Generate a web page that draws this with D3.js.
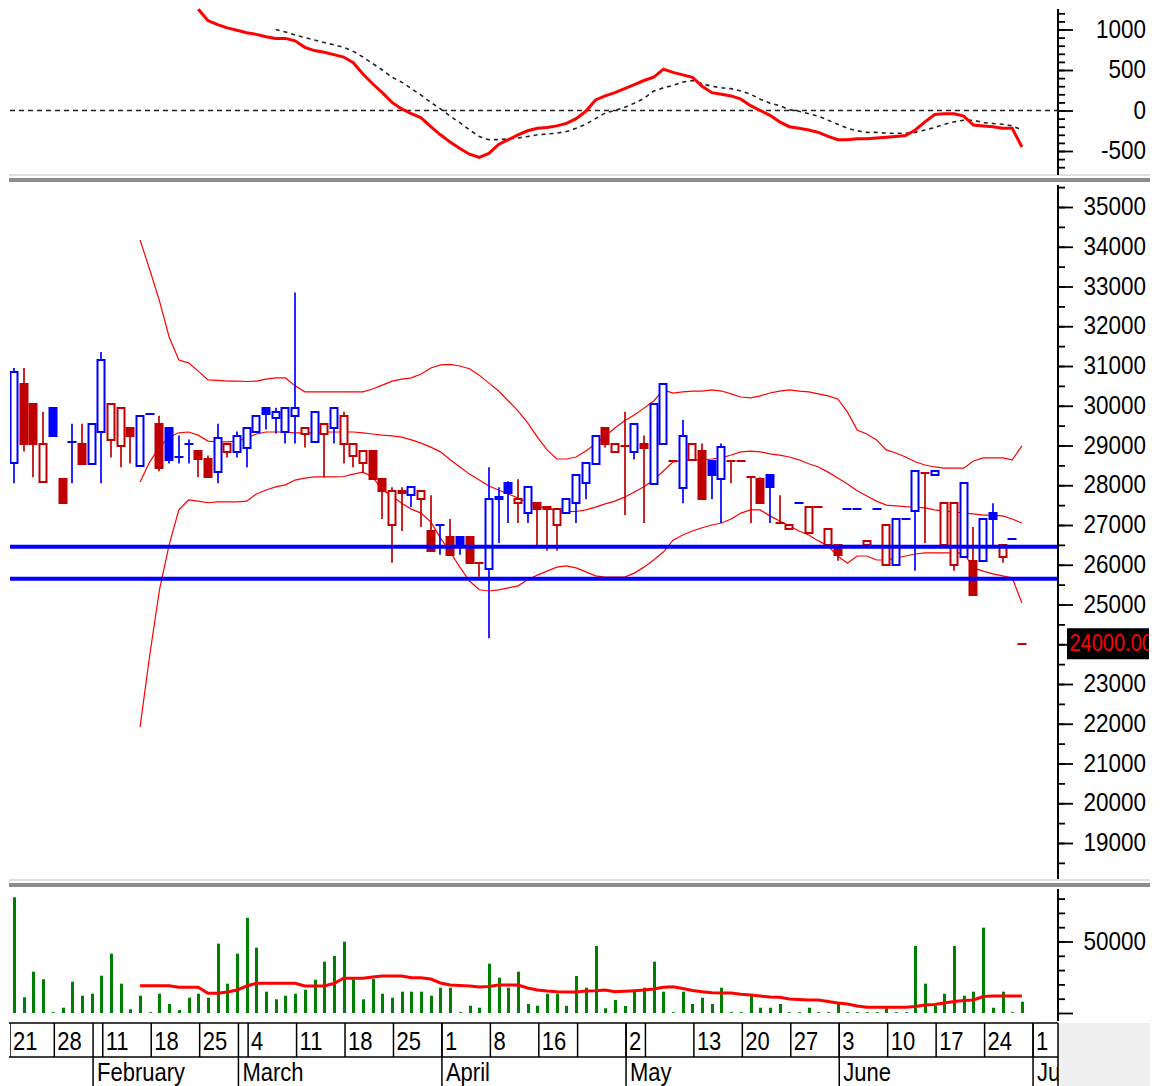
<!DOCTYPE html>
<html>
<head>
<meta charset="utf-8">
<title>Price chart</title>
<script src="https://cdn.jsdelivr.net/npm/d3@7/dist/d3.min.js"></script>
<style>
  body { margin: 0; background: #fff; }
  svg { display: block; }
  text { font-family: Arial, "Liberation Sans", sans-serif; }
</style>
</head>
<body>
<div id="chart"></div>
<script>
// ---- data (one entry per trading day, index 0 = Jan 21) ----
const opens = [28550,30550,30050,28100,29950,28150,29100,29050,28550,29350,
  29150,29000,29450,28500,29800,29550,29450,28700,29050,28850,
  28650,28350,28850,28850,28950,29350,29950,29700,29350,29750,
  29300,29100,29300,29450,29050,28750,28550,28850,28150,27000,
  27850,27750,27650,26850,27000,26700,26700,26700,26050,25900,
  27650,28050,27550,27300,27550,27450,27000,27300,27550,28050,
  28550,29450,28850,29000,28850,29050,28050,29050,28600,27950,
  28650,28850,28600,28150,28600,28600,28200,28150,28250,27050,
  26900,27550,26800,27450,26500,26500,27400,27400,26500,27400,
  26000,26000,27150,27350,28300,28250,26500,26000,26200,26100,
  26100,27300,26200,26650,24000];
const highs = [30950,30950,30050,29850,29950,28150,29550,29550,29550,31350,
  30050,29950,29450,29750,29800,29750,29450,29250,29150,28850,
  28750,29550,29050,29350,29450,29750,29950,29950,29950,32850,
  29450,29850,29550,29950,29850,29050,28850,28850,28150,27950,
  27950,27950,27850,27750,27000,27150,26700,26700,26050,28450,
  27950,28100,28150,27950,27550,27450,27400,27650,28250,28550,
  29250,29450,29050,29850,29550,29250,30050,30550,28600,29650,
  29050,29050,28600,29050,28600,28600,28200,28200,28250,27750,
  27000,27550,27450,27450,26900,26500,27400,27400,26600,27400,
  27000,27150,27150,28350,28300,28350,27550,27550,28050,26950,
  27150,27550,26500,26650,24000];
const lows = [28050,28850,28200,28100,29250,27550,28050,28550,28550,28050,
  28700,28450,28550,28500,29800,28350,28550,28550,28550,28200,
  28200,28050,28700,28700,28450,29350,29400,29300,29050,29050,
  28950,29100,28200,29050,28550,28450,28300,28150,27150,26050,
  26850,27450,26950,26350,26250,26250,26250,26050,25700,24150,
  26550,27050,27050,27050,26450,26350,26350,27300,27050,27650,
  28550,28950,28850,27250,28650,27050,28050,29050,28600,27550,
  28650,27650,27650,27050,28050,28600,27050,27550,27050,27050,
  26900,27550,26800,27450,26500,26100,27400,27400,26500,27400,
  26000,26000,27150,25850,26550,28250,26500,25850,26200,25250,
  26100,26450,26050,26650,24000];
const closes = [30850,29050,29050,29050,29250,27550,29100,28550,29550,31150,
  30050,29950,29250,29750,29800,28450,28650,28700,29050,28650,
  28200,29200,29050,29250,29450,29750,29800,29850,29950,29950,
  29450,29850,29550,29950,29750,29050,28850,28150,27850,27850,
  27800,27950,27850,26350,27000,26250,26450,26050,26050,27650,
  27700,27800,27650,27950,27400,27400,27400,27650,28250,28550,
  29250,29050,29050,29000,29550,28950,30050,30550,28600,29250,
  29050,27650,28250,28950,28600,28600,28200,27550,27950,27050,
  27000,27550,27450,27450,26900,26250,27400,27400,26600,27400,
  27000,27150,27150,28350,28300,28350,27550,27550,28050,25250,
  27150,27150,26500,26650,24000];
// B = up on the previous close (blue), R = down (red)
const candleSide = "BRRRBRBRBB" + "RRRBBRBBBR" + "RBRBBBBBBB" + "RBRBRRRRRR" + "RBRRBRBRRB" +
  "BBRBRRRBBB" + "BRRRBRBBRB" + "RRBBRRRRBR" + "RBRRRRBBRB" + "RBBBRBRRBR" + "BBRBR";
const volumes = [80900,11000,28900,23600,600,3700,21900,12100,13500,26100,
  41500,20500,2600,12100,600,13500,6300,2100,10700,13500,
  10700,48500,20500,41500,66600,45700,14900,9600,12100,13500,
  16300,23300,35900,39900,49900,23600,9600,23800,13500,10700,
  14900,14900,14900,12100,17700,17700,600,5100,3700,34500,
  24700,17700,28900,6300,5100,13500,13500,5000,25900,17700,
  46900,3300,9100,4900,14900,17700,35900,14900,600,14900,
  6300,10700,6300,17700,600,600,12100,3700,3700,6300,
  600,600,3700,600,600,6300,600,600,600,600,
  3300,600,600,46900,20500,4900,13500,46900,12100,14900,
  59700,3700,14900,600,7900];

// Bollinger bands, from index 13
const bandStart = 13;
const bandUpper = [34170,33420,32640,31730,31150,31080,30870,30650,30640,30620,
  30620,30610,30620,30670,30700,30700,30500,30350,30350,30350,
  30350,30350,30350,30350,30420,30520,30620,30670,30700,30800,
  30950,31030,31040,31000,30930,30770,30570,30370,30120,29870,
  29570,29210,28890,28660,28660,28710,28860,29040,29240,29440,
  29620,29770,29940,30120,30400,30320,30350,30370,30370,30400,
  30370,30300,30220,30200,30250,30320,30370,30400,30370,30350,
  30300,30250,30170,29840,29390,29290,29140,28890,28810,28710,
  28590,28510,28460,28430,28430,28430,28610,28690,28690,28690,
  28640,28990];
const bandMiddle = [28080,28590,28960,29210,29320,29340,29260,29110,29090,29090,
  29110,29190,29290,29340,29340,29340,29320,29320,29320,29340,
  29340,29340,29340,29320,29290,29260,29240,29210,29140,29060,
  28960,28840,28640,28460,28280,28130,27980,27880,27780,27680,
  27580,27480,27400,27380,27340,27340,27380,27450,27530,27600,
  27700,27830,27960,28130,28360,28590,28610,28640,28640,28660,
  28690,28760,28840,28860,28840,28790,28760,28710,28640,28540,
  28460,28330,28180,28030,27860,27730,27600,27500,27480,27460,
  27450,27430,27380,27350,27330,27300,27280,27250,27250,27230,
  27150,27050];
const bandLower = [21920,23730,25370,26500,27380,27630,27600,27560,27580,27580,
  27580,27600,27780,27880,27960,28010,28130,28180,28210,28210,
  28210,28220,28280,28330,28210,27880,27730,27550,27400,27300,
  27080,26670,26320,25940,25590,25370,25340,25370,25420,25470,
  25620,25740,25840,25940,25970,25920,25820,25720,25690,25690,
  25690,25790,25940,26120,26320,26620,26750,26850,26930,27000,
  27050,27150,27300,27380,27380,27230,27100,26980,26850,26750,
  26600,26470,26220,26040,26220,26220,26120,26120,26170,26220,
  26270,26300,26300,26300,26300,26300,25920,25840,25770,25720,
  25670,25040];

// MACD and its signal line
const macdStart = 19;
const macdLine = [1250,1110,1060,1020,990,960,940,910,890,890,
  860,780,740,720,690,660,590,450,330,220,
  100,20,-40,-90,-200,-300,-390,-470,-540,-580,
  -530,-420,-360,-300,-250,-220,-210,-190,-160,-100,
  -10,130,180,220,270,320,370,410,510,470,
  440,410,300,220,200,180,140,60,0,-60,
  -140,-200,-220,-240,-270,-320,-360,-360,-350,-350,
  -340,-330,-320,-310,-240,-140,-50,-40,-40,-70,
  -180,-190,-200,-220,-220,-450];
const signalStart = 27;
const signalLine = [1000,970,930,900,870,840,810,780,730,660,
  580,500,410,350,270,190,100,20,-70,-150,
  -240,-320,-360,-360,-350,-340,-320,-300,-290,-280,
  -260,-220,-170,-100,-30,0,40,90,150,240,
  280,310,350,370,330,300,280,270,240,200,
  140,90,60,10,-10,-40,-70,-120,-170,-220,
  -250,-270,-270,-280,-280,-280,-270,-240,-210,-170,
  -140,-120,-120,-150,-160,-170,-190,-240];

// volume moving average, from index 13
const volMaStart = 13;
const volMa = [19090,19090,19090,19090,17970,17970,17970,13780,13780,14690,
  16080,18880,20770,20770,20770,20770,20770,18880,18880,18880,
  20630,24270,24270,24270,25170,25870,25870,25870,24690,24690,
  23780,20980,19580,19230,18880,18180,18530,19580,19580,19580,
  17480,16080,15380,14900,14690,14690,15380,15590,16080,14900,
  15240,15590,16080,16780,17970,18390,17130,15730,14900,14200,
  13990,13990,13080,12590,11890,11190,10980,9790,9440,9090,
  9090,8040,6990,6290,4900,3990,3990,3990,3990,3990,
  4550,5590,5940,6990,8040,8740,9090,11540,11890,11890,
  11890,11890];

const supportLevels = [26450, 25650];
const lastPrice = 24000;

// date axis: first bar index of each week / month
const weekStarts = [0, 5, 10, 15, 20, 25, 30, 35, 40, 45, 50, 55, 59, 64, 66, 71, 76, 81, 86, 91, 96, 101, 106];
const weekLabels = ["21", "28", "11", "18", "25", "4", "11", "18", "25", "1", "8", "16", "", "2", "", "13", "20", "27", "3", "10", "17", "24", "1"];
const monthStarts = [9, 24, 45, 64, 86, 106];
const monthLabels = ["February", "March", "April", "May", "June", "July"];

const macdTicks = [-500, 0, 500, 1000];
const priceTicks = d3.range(19000, 35001, 1000);
const volTicks = [0, 50000];

// ---- layout ----
const W = 1163, H = 1086;
const left = 10, right = 1058;
const TEXT_STRETCH = 1.15; // the source font is drawn a little taller than wide
const panels = {
  macd: { top: 8, bottom: 175 },
  price: { top: 184, bottom: 880 },
  vol: { top: 888, bottom: 1021 },
  axis: { top: 1022, bottom: 1086 }
};
const BLUE = '#0000ff', DARKRED = '#c00000', RED = '#ff0000';

const svg = d3.select('#chart').append('svg').attr('width', W).attr('height', H);

const x = d3.scaleLinear().domain([0, 104]).range([14.1, 1021.9]);
const step = x(1) - x(0);
const yMacd = d3.scaleLinear().domain([-500, 1000]).range([151, 29.5]);
const yPrice = d3.scaleLinear().domain([19000, 35000]).range([843, 207]);
const yVol = d3.scaleLinear().domain([0, 50000]).range([1013, 941.5]);

const defs = svg.append('defs');
Object.entries(panels).forEach(([k, p]) => {
  defs.append('clipPath').attr('id', 'clip-' + k)
    .append('rect')
    .attr('x', left).attr('y', p.top)
    .attr('width', right - left).attr('height', p.bottom - p.top);
});

function label(sel, tx, ty, str, size) {
  return sel.append('text')
    .attr('transform', `translate(${tx},${ty}) scale(1,${TEXT_STRETCH})`)
    .attr('fill', '#000').style('font-size', size + 'px')
    .text(str);
}

// panel separators
[174, 879].forEach(y0 => {
  svg.append('rect').attr('x', 9).attr('y', y0).attr('width', 1141).attr('height', 2).attr('fill', '#e0e0e0');
  svg.append('rect').attr('x', 9).attr('y', y0 + 4).attr('width', 1141).attr('height', 4).attr('fill', '#8c8c8c');
});

// ---- MACD panel ----
const gM = svg.append('g').attr('clip-path', 'url(#clip-macd)');
gM.append('line')
  .attr('x1', left).attr('x2', right)
  .attr('y1', yMacd(0)).attr('y2', yMacd(0))
  .attr('stroke', '#222').attr('stroke-width', 1.5).attr('stroke-dasharray', '5,4');

gM.append('path')
  .datum(signalLine)
  .attr('fill', 'none').attr('stroke', '#222').attr('stroke-width', 1.6)
  .attr('stroke-dasharray', '4,4')
  .attr('d', d3.line().x((d, i) => x(signalStart + i)).y(d => yMacd(d)));

gM.append('path')
  .datum(macdLine)
  .attr('fill', 'none').attr('stroke', RED).attr('stroke-width', 3)
  .attr('d', d3.line().x((d, i) => x(macdStart + i)).y(d => yMacd(d)));

// ---- price panel ----
const gP = svg.append('g').attr('clip-path', 'url(#clip-price)');
[bandUpper, bandMiddle, bandLower].forEach(band => {
  gP.append('path')
    .datum(band)
    .attr('fill', 'none').attr('stroke', RED).attr('stroke-width', 1.2)
    .attr('d', d3.line().x((d, i) => x(bandStart + i)).y(d => yPrice(d)));
});

const candles = opens.map((o, i) => ({
  i, o, h: highs[i], l: lows[i], c: closes[i],
  col: candleSide[i] === 'B' ? BLUE : DARKRED
}));
const bw = 7;
const cx = d => Math.round(x(d.i));

const cg = gP.selectAll('g.candle').data(candles).enter().append('g').attr('class', 'candle');
cg.filter(d => d.h > d.l)
  .append('line')
  .attr('x1', cx).attr('x2', cx)
  .attr('y1', d => yPrice(d.h)).attr('y2', d => yPrice(d.l))
  .attr('stroke', d => d.col).attr('stroke-width', 1.7);
cg.filter(d => d.o !== d.c)
  .append('rect')
  .attr('x', d => cx(d) - bw / 2)
  .attr('y', d => Math.round(yPrice(Math.max(d.o, d.c))))
  .attr('width', bw)
  .attr('height', d => Math.max(1, Math.round(yPrice(Math.min(d.o, d.c)) - yPrice(Math.max(d.o, d.c)))))
  .attr('fill', d => d.c < d.o ? d.col : '#fff')
  .attr('stroke', d => d.col).attr('stroke-width', 2);
cg.filter(d => d.o === d.c)
  .append('line')
  .attr('x1', d => cx(d) - bw / 2 - 1)
  .attr('x2', d => cx(d) + bw / 2 + 1)
  .attr('y1', d => Math.round(yPrice(d.c))).attr('y2', d => Math.round(yPrice(d.c)))
  .attr('stroke', d => d.col).attr('stroke-width', 2);

gP.selectAll('line.support').data(supportLevels).enter().append('line')
  .attr('class', 'support')
  .attr('x1', left).attr('x2', right)
  .attr('y1', d => yPrice(d)).attr('y2', d => yPrice(d))
  .attr('stroke', BLUE).attr('stroke-width', 4);

// ---- volume panel ----
const gV = svg.append('g').attr('clip-path', 'url(#clip-vol)');
gV.selectAll('rect.vol').data(volumes).enter().append('rect')
  .attr('class', 'vol')
  .attr('x', (d, i) => Math.round(x(i)) - 1)
  .attr('y', d => yVol(d))
  .attr('width', 3)
  .attr('height', d => yVol(0) - yVol(d))
  .attr('fill', '#008000');
gV.append('path')
  .datum(volMa)
  .attr('fill', 'none').attr('stroke', RED).attr('stroke-width', 3)
  .attr('d', d3.line().x((d, i) => x(volMaStart + i)).y(d => yVol(d)));

// ---- right-hand axes ----
function rightAxis(scale, minorVals, majorVals, labelled, y1, y2) {
  const g = svg.append('g');
  g.append('line')
    .attr('x1', right).attr('x2', right).attr('y1', y1).attr('y2', y2)
    .attr('stroke', '#000').attr('stroke-width', 2);
  g.append('g').attr('transform', `translate(${right},0)`)
    .call(d3.axisRight(scale).tickValues(minorVals).tickSize(7).tickFormat(''));
  const major = g.append('g').attr('transform', `translate(${right},0)`)
    .call(d3.axisRight(scale).tickValues(majorVals).tickSize(15).tickFormat(''));
  g.selectAll('.domain').remove();
  g.selectAll('.tick line').attr('stroke', '#000').attr('stroke-width', 1.8);
  labelled.forEach(v => {
    label(g, 1146, scale(v) + 8, String(v), 22.5).attr('text-anchor', 'end');
  });
}

rightAxis(yMacd, d3.range(-700, 1201, 100), macdTicks, macdTicks, 9, 175);
rightAxis(yPrice, d3.range(18500, 35501, 500), priceTicks, priceTicks.filter(v => v !== lastPrice), 185, 879);
rightAxis(yVol, d3.range(10000, 80001, 10000), volTicks, [50000], 889, 1021);

// last price tag
const tagY = yPrice(lastPrice);
defs.append('clipPath').attr('id', 'clip-tag')
  .append('rect').attr('x', 1067).attr('y', tagY - 17).attr('width', 82).attr('height', 34);
svg.append('rect').attr('x', 1067).attr('y', tagY - 16).attr('width', 82).attr('height', 31).attr('fill', '#000');
label(svg.append('g').attr('clip-path', 'url(#clip-tag)'), 1069.5, tagY + 7, lastPrice.toFixed(2), 20)
  .attr('fill', RED);

// ---- date axis ----
const ax = svg.append('g');
const rowTop = 1023, rowMid = 1057, rowBot = 1086;
ax.append('rect').attr('x', right).attr('y', rowTop).attr('width', 1150 - right).attr('height', rowBot - rowTop).attr('fill', '#f0f0f0');
ax.append('line').attr('x1', 9).attr('x2', right).attr('y1', rowTop).attr('y2', rowTop).attr('stroke', '#000').attr('stroke-width', 1.5);
ax.append('line').attr('x1', 9).attr('x2', right).attr('y1', rowMid).attr('y2', rowMid).attr('stroke', '#000').attr('stroke-width', 1.5);
ax.append('line').attr('x1', right).attr('x2', right).attr('y1', rowTop).attr('y2', rowBot).attr('stroke', '#000').attr('stroke-width', 1.5);

const lineX = i => Math.max(10, x(i) - 0.85 * step);
const axc = ax.append('g').attr('clip-path', 'url(#clip-axis)');

weekStarts.forEach((ws, k) => {
  const wx = lineX(ws);
  axc.append('line').attr('x1', wx).attr('x2', wx).attr('y1', rowTop).attr('y2', rowMid)
    .attr('stroke', '#000').attr('stroke-width', 1.5);
  label(axc, wx + 3, 1049.5, weekLabels[k], 22);
});
monthStarts.forEach((ms, k) => {
  const mx = lineX(ms);
  axc.append('line').attr('x1', mx).attr('x2', mx).attr('y1', rowTop).attr('y2', rowBot)
    .attr('stroke', '#000').attr('stroke-width', 1.5);
  label(axc, mx + 4, 1081, monthLabels[k], 22);
});
</script>
</body>
</html>
